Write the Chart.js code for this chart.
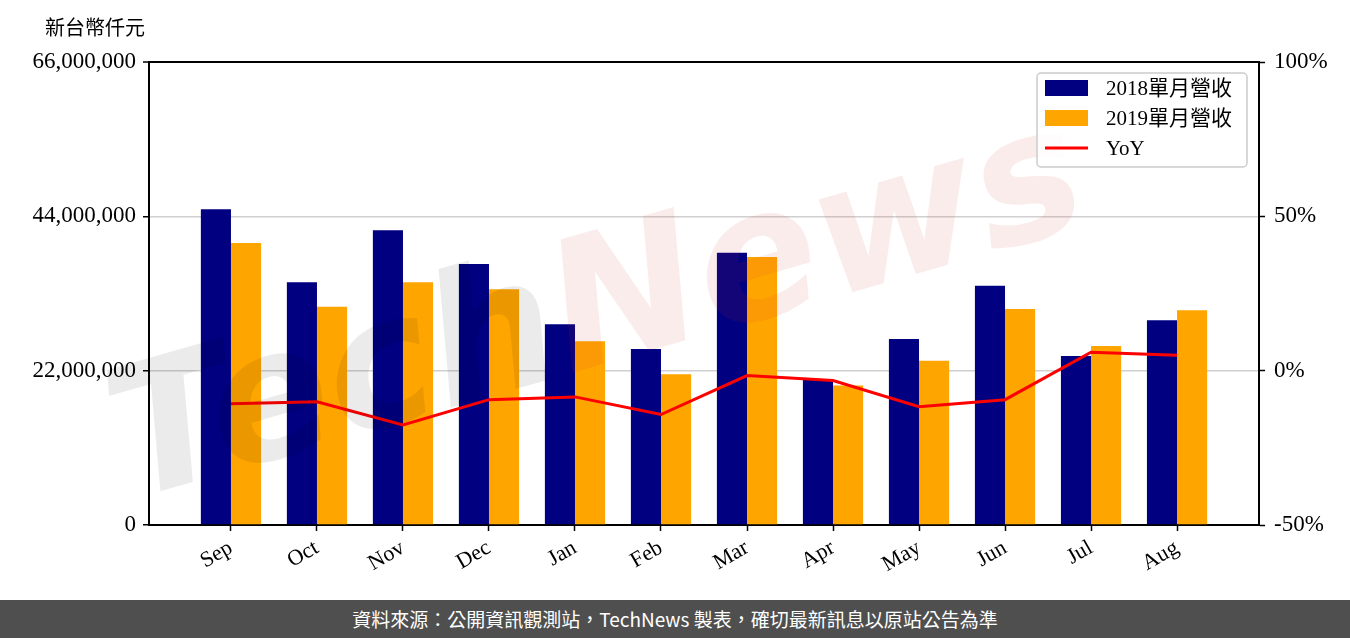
<!DOCTYPE html>
<html>
<head>
<meta charset="utf-8">
<script src="https://cdn.jsdelivr.net/npm/chart.js@4/dist/chart.umd.min.js"></script>
<style>
  body { margin: 0; background: #fff; }
  #wrap { position: relative; width: 1350px; height: 638px; }
  #footer {
    position: absolute; left: 0; top: 600px; width: 1350px; height: 38px;
    background: #4f4f4f; color: #fff; text-align: center;
    font: 19px "Noto Sans CJK TC", "Noto Sans", sans-serif; line-height: 38px;
  }
</style>
</head>
<body>
<div id="wrap">
  <canvas id="revChart" width="1350" height="600"></canvas>
  <div id="footer">資料來源：公開資訊觀測站，TechNews 製表，確切最新訊息以原站公告為準</div>
</div>
<script>
const months = ["Sep", "Oct", "Nov", "Dec", "Jan", "Feb", "Mar", "Apr", "May", "Jun", "Jul", "Aug"];
const rev2018 = [45000000, 34600000, 42000000, 37200000, 28600000, 25100000, 38800000, 20700000, 26500000, 34100000, 24100000, 29200000];
const rev2019 = [40200000, 31100000, 34600000, 33600000, 26200000, 21500000, 38200000, 19900000, 23400000, 30800000, 25500000, 30600000];
const yoy = [-10.7, -10.1, -17.6, -9.4, -8.5, -14.2, -1.6, -3.2, -11.7, -9.4, 6.0, 5.0];
const leftTicks = [0, 22000000, 44000000, 66000000];
const rightTicks = [-50, 0, 50, 100];

const serif = "'Liberation Serif', 'Noto Sans CJK TC', serif";

// 標題、浮水印、圖例
const overlay = {
  id: "overlay",
  afterDatasetsDraw(chart) {
    const ctx = chart.ctx;
    ctx.save();
    ctx.translate(130, 500);
    ctx.rotate(-0.28);
    ctx.font = "italic bold 180px 'DejaVu Sans', sans-serif";
    ctx.textBaseline = "alphabetic";
    ctx.fillStyle = "rgba(0,0,0,0.08)";
    ctx.fillText("Tech", 0, 0);
    const w = ctx.measureText("Tech").width;
    ctx.fillStyle = "rgba(210,40,40,0.09)";
    ctx.fillText("News", w, 0);
    ctx.restore();
  },
  afterDraw(chart) {
    const ctx = chart.ctx;
    ctx.save();
    ctx.fillStyle = "#000";
    ctx.font = "20px 'Noto Sans CJK TC', sans-serif";
    ctx.textBaseline = "middle";
    ctx.fillText("新台幣仟元", 45, 27);

    // legend box
    const bx = 1037, by = 73, bw = 210, bh = 94;
    ctx.beginPath();
    ctx.roundRect(bx, by, bw, bh, 4);
    ctx.fillStyle = "rgba(255,255,255,0.85)";
    ctx.fill();
    ctx.strokeStyle = "#cccccc";
    ctx.lineWidth = 1.5;
    ctx.stroke();

    const ds = chart.data.datasets;
    const items = [ds[1], ds[2], ds[0]];
    ctx.font = "21px " + serif;
    items.forEach((d, i) => {
      const cy = 88 + i * 30;
      if (d.type === "line") {
        ctx.strokeStyle = d.borderColor;
        ctx.lineWidth = 3;
        ctx.beginPath();
        ctx.moveTo(1045, cy);
        ctx.lineTo(1088, cy);
        ctx.stroke();
      } else {
        ctx.fillStyle = d.backgroundColor;
        ctx.fillRect(1045, cy - 8, 43, 16);
      }
      ctx.fillStyle = "#000";
      ctx.fillText(d.label, 1106, cy + 1);
    });
    ctx.restore();
  },
};

const ctx = document.getElementById("revChart").getContext("2d");
new Chart(ctx, {
  data: {
    datasets: [
      {
        type: "line",
        label: "YoY",
        data: yoy.map((v, i) => ({ x: i, y: v })),
        borderColor: "#ff0000",
        borderWidth: 3,
        pointRadius: 0,
        tension: 0,
        yAxisID: "y1",
        order: 0,
      },
      {
        type: "bar",
        label: "2018單月營收",
        data: rev2018.map((v, i) => ({ x: i, y: v })),
        backgroundColor: "#000080",
        categoryPercentage: 0.7,
        barPercentage: 1.0,
        yAxisID: "y",
        order: 1,
      },
      {
        type: "bar",
        label: "2019單月營收",
        data: rev2019.map((v, i) => ({ x: i, y: v })),
        backgroundColor: "#ffa500",
        categoryPercentage: 0.7,
        barPercentage: 1.0,
        yAxisID: "y",
        order: 1,
      },
    ],
  },
  options: {
    responsive: false,
    devicePixelRatio: 1,
    animation: false,
    layout: { padding: { top: 62, left: 0, right: 0, bottom: 0 } },
    plugins: { legend: { display: false }, tooltip: { enabled: false } },
    scales: {
      x: {
        type: "linear",
        offset: false,
        min: -0.953,
        max: 11.953,
        afterBuildTicks: (scale) => {
          scale.ticks = months.map((m, i) => ({ value: i }));
        },
        afterFit: (scale) => { scale.height = 75; },
        ticks: {
          callback: (v) => months[v],
          minRotation: 30,
          maxRotation: 30,
          padding: 4,
          color: "#000",
          font: { family: serif, size: 22 },
        },
        grid: { drawOnChartArea: false, offset: false, tickLength: 6, tickColor: "#000", tickWidth: 1.5 },
        border: { color: "#000", width: 2 },
      },
      y: {
        position: "left",
        min: 0,
        max: 66000000,
        afterBuildTicks: (scale) => {
          scale.ticks = leftTicks.map((v) => ({ value: v }));
        },
        afterFit: (scale) => { scale.width = 149; },
        ticks: {
          callback: (v) => v.toLocaleString("en-US"),
          padding: 7,
          color: "#000",
          font: { family: serif, size: 23 },
        },
        grid: {
          color: (c) => {
            const v = c.tick ? c.tick.value : null;
            if (v === 66000000) return "#000";
            if (v === 0) return "rgba(0,0,0,0)";
            return "#d0d0d0";
          },
          lineWidth: (c) => (c.tick && c.tick.value === 66000000 ? 2 : 1.5),
          tickLength: 6,
          tickColor: "#000",
          tickWidth: 1.5,
        },
        border: { color: "#000", width: 2 },
      },
      y1: {
        position: "right",
        min: -50,
        max: 100,
        afterBuildTicks: (scale) => {
          scale.ticks = rightTicks.map((v) => ({ value: v }));
        },
        afterFit: (scale) => { scale.width = 91; },
        ticks: {
          callback: (v) => v + "%",
          padding: 9,
          color: "#000",
          font: { family: serif, size: 23 },
        },
        grid: { drawOnChartArea: false, tickLength: 6, tickColor: "#000", tickWidth: 1.5 },
        border: { color: "#000", width: 2 },
      },
    },
  },
  plugins: [overlay],
});
</script>
</body>
</html>
